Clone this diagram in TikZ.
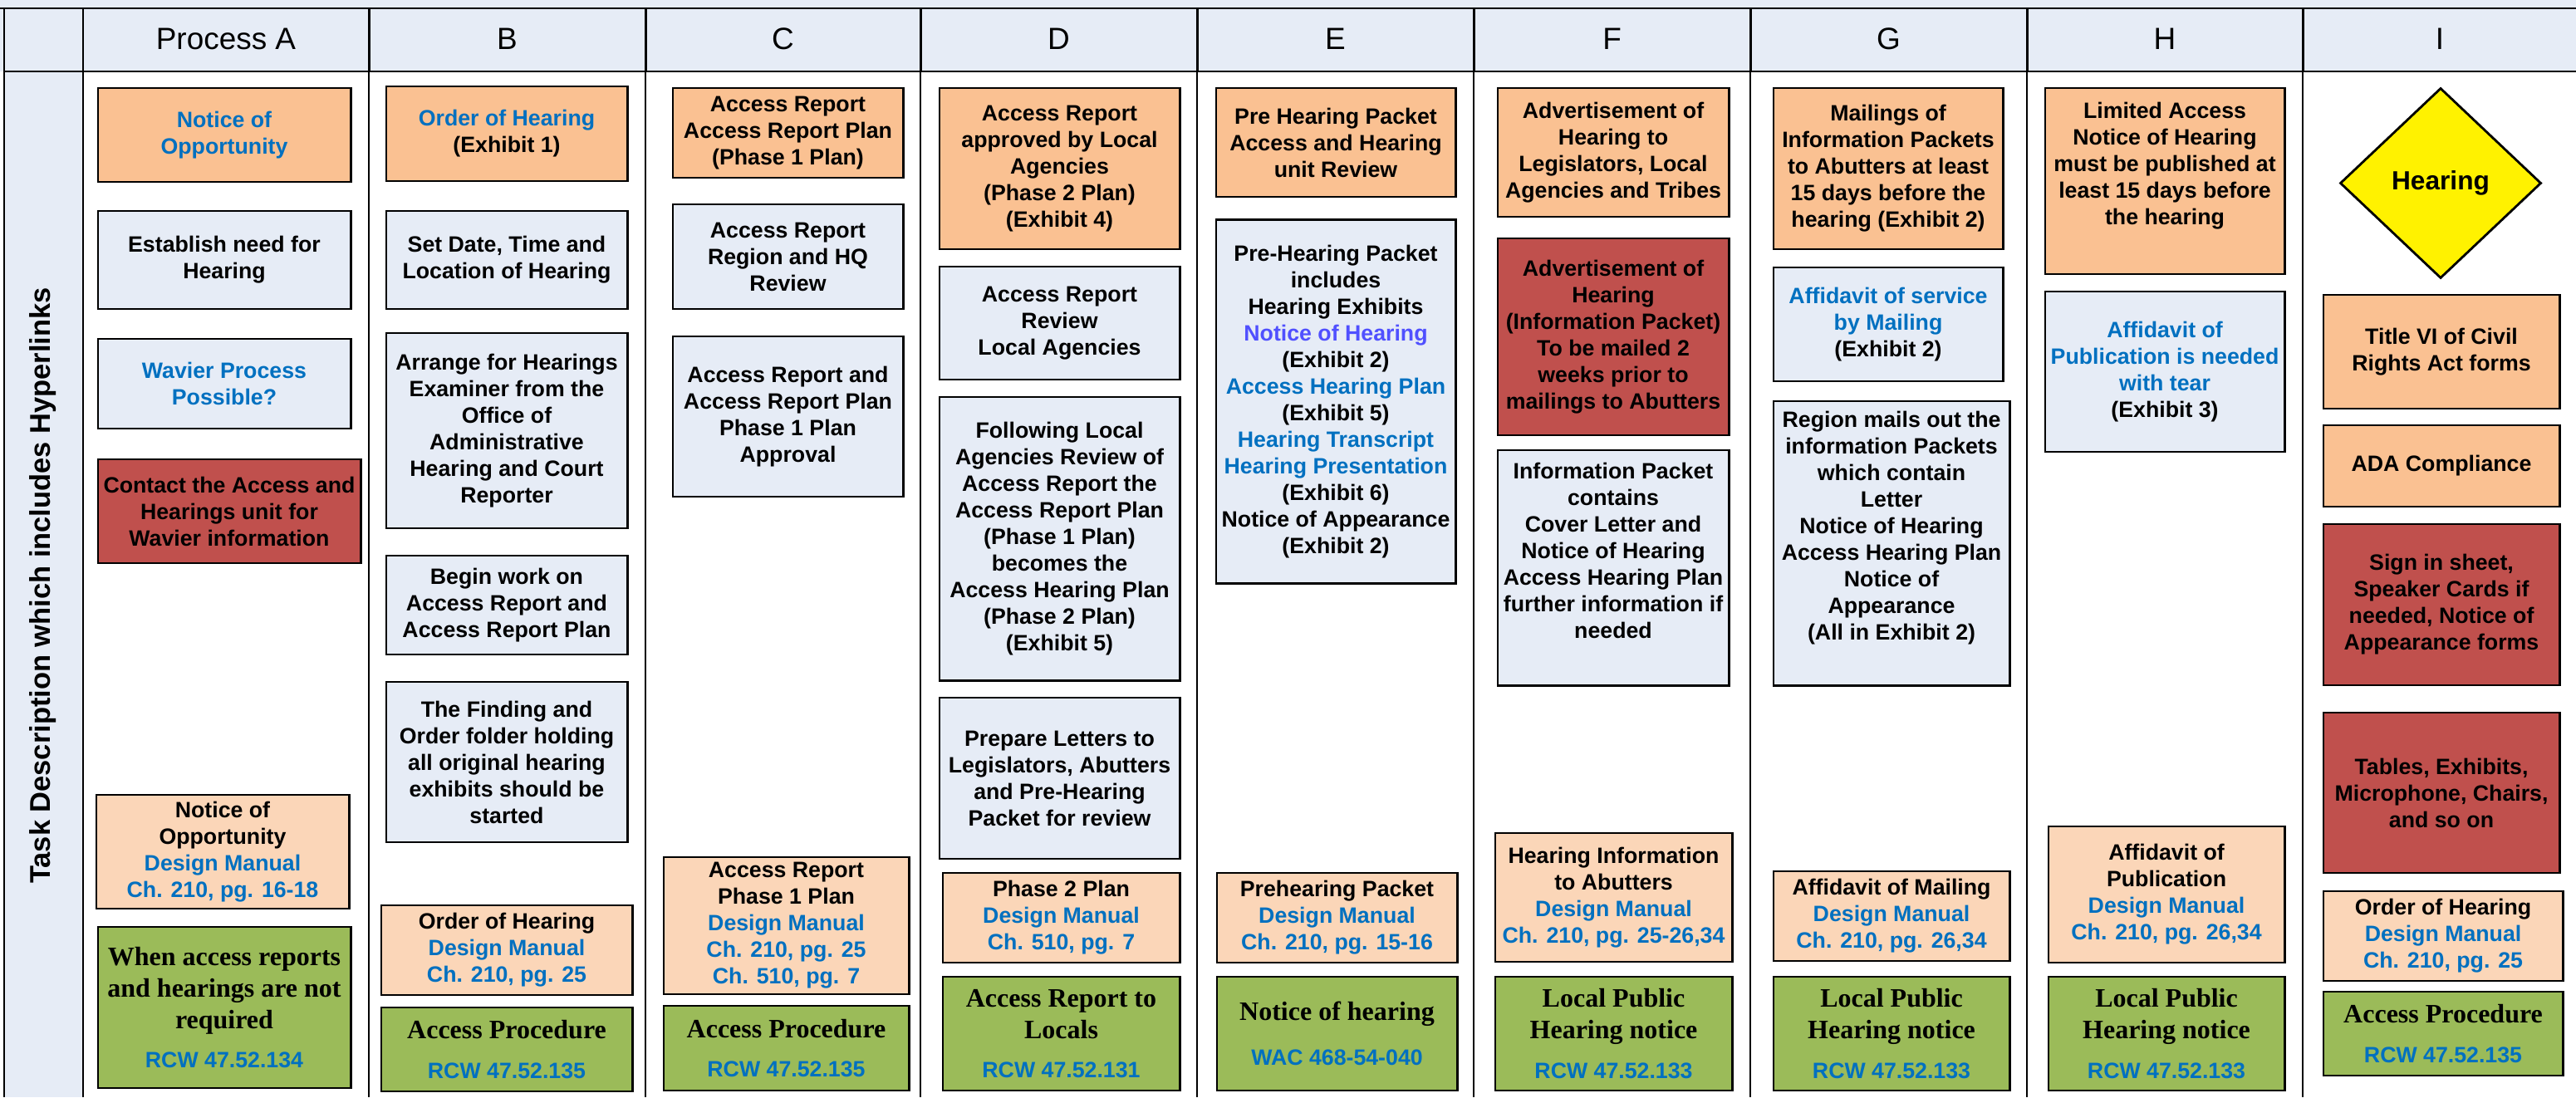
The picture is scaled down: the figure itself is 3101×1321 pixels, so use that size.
\documentclass[tikz,border=0pt]{standalone}
\usepackage{fontspec}
\setmainfont{Liberation Sans}
\newfontfamily\lawserif{Liberation Serif}
\usetikzlibrary{shapes.geometric}

\definecolor{headfill}{HTML}{E6ECF6}
\definecolor{stepfill}{HTML}{E6ECF6}
\definecolor{topfill}{HTML}{FAC192}
\definecolor{reffill}{HTML}{FBD6B8}
\definecolor{alertfill}{HTML}{C0504D}
\definecolor{lawfill}{HTML}{9BBB59}
\definecolor{linkblue}{HTML}{0070C0}
\definecolor{linkviolet}{HTML}{5050FF}

\newcommand\boxfont{\fontsize{7.6}{9.1}\selectfont\rmfamily\bfseries}
\newcommand\lawfont{\fontsize{9.1}{10.8}\selectfont\lawserif\bfseries}
\newcommand\headfont{\fontsize{10.5}{12}\selectfont}
\newcommand\linktext[1]{\textcolor{linkblue}{#1}}
\newcommand\rcw[1]{{\boxfont\linktext{#1}}}

\begin{document}
\begin{tikzpicture}[x=0.01cm, y=-0.01cm,
    task/.style={draw, line width=0.8pt, align=center, inner sep=1pt, font=\boxfont},
    boxsize/.style 2 args={minimum width=#1cm, minimum height=#2cm},
    topbox/.style={task, fill=topfill},
    stepbox/.style={task, fill=stepfill},
    alertbox/.style={task, fill=alertfill},
    refbox/.style={task, fill=reffill},
    lawbox/.style={task, fill=lawfill, font=\lawfont}]
    \useasboundingbox (0,0) rectangle (3101,1321);

    \fill[headfill] (0,0) rectangle (3101,86);
    \fill[headfill] (5,86) rectangle (100,1321);
    \draw[line width=0.85pt] (0,10) -- (3101,10);
    \draw[line width=0.85pt] (5,86) -- (3101,86);
    \draw[line width=0.85pt] (5,10) -- (5,1321);
    \draw[line width=0.6pt] (100,10) -- (100,1321);
    \foreach \x in {444,777,1108,1441,1774,2107,2440,2772} {
        \draw[line width=0.85pt] (\x,10) -- (\x,86);
        \draw[line width=0.5pt] (\x,86) -- (\x,1321);
    }

    \node (rowLabel) [rotate=90, font=\fontsize{9.8}{11}\selectfont\bfseries] at (52,705) {Task Description which includes Hyperlinks};

    \node (hdrA) [font=\headfont] at (272,47) {Process A};
    \node (hdrB) [font=\headfont] at (610.5,47) {B};
    \node (hdrC) [font=\headfont] at (942.5,47) {C};
    \node (hdrD) [font=\headfont] at (1274.5,47) {D};
    \node (hdrE) [font=\headfont] at (1607.5,47) {E};
    \node (hdrF) [font=\headfont] at (1940.5,47) {F};
    \node (hdrG) [font=\headfont] at (2273.5,47) {G};
    \node (hdrH) [font=\headfont] at (2606,47) {H};
    \node (hdrI) [font=\headfont] at (2937,47) {I};

    \node (aNotice) [topbox, boxsize={3.04}{1.13}] at (270,162.5) {\linktext{Notice of}\\\linktext{Opportunity}};
    \node (aNeed) [stepbox, boxsize={3.04}{1.18}] at (270,313) {Establish need for\\Hearing};
    \node (aWaiver) [stepbox, boxsize={3.04}{1.08}] at (270,462) {\linktext{Wavier Process}\\\linktext{Possible?}};
    \node (aContact) [alertbox, boxsize={3.16}{1.25}] at (276,615.5) {Contact the Access and\\Hearings unit for\\Wavier information};
    \node (aManual) [refbox, boxsize={3.04}{1.37}] at (268,1025.5) {Notice of\\Opportunity\\\linktext{Design Manual}\\\linktext{Ch. 210, pg. 16-18}};
    \node (aLaw) [lawbox, boxsize={3.04}{1.94}] at (270,1213) {When access reports\\and hearings are not\\required\\[2.7pt]\rcw{RCW 47.52.134}};

    \node (bOrder) [topbox, boxsize={2.90}{1.14}] at (610,161) {\linktext{Order of Hearing}\\(Exhibit 1)};
    \node (bDate) [stepbox, boxsize={2.90}{1.18}] at (610,313) {Set Date, Time and\\Location of Hearing};
    \node (bArrange) [stepbox, boxsize={2.90}{2.35}] at (610,518.5) {Arrange for Hearings\\Examiner from the\\Office of\\Administrative\\Hearing and Court\\Reporter};
    \node (bBegin) [stepbox, boxsize={2.90}{1.19}] at (610,728.5) {Begin work on\\Access Report and\\Access Report Plan};
    \node (bFolder) [stepbox, boxsize={2.90}{1.93}] at (610,917.5) {The Finding and\\Order folder holding\\all original hearing\\exhibits should be\\started};
    \node (bManual) [refbox, boxsize={3.02}{1.08}] at (610,1144) {Order of Hearing\\\linktext{Design Manual}\\\linktext{Ch. 210, pg. 25}};
    \node (bLaw) [lawbox, boxsize={3.02}{1.01}] at (610,1263.5) {Access Procedure\\[2.7pt]\rcw{RCW 47.52.135}};

    \node (cReport) [topbox, boxsize={2.77}{1.08}] at (948.5,160) {Access Report\\Access Report Plan\\(Phase 1 Plan)};
    \node (cReview) [stepbox, boxsize={2.77}{1.26}] at (948.5,309) {Access Report\\Region and HQ\\Review};
    \node (cApproval) [stepbox, boxsize={2.77}{1.93}] at (948.5,501.5) {Access Report and\\Access Report Plan\\Phase 1 Plan\\Approval};
    \node (cManual) [refbox, boxsize={2.95}{1.65}] at (946.5,1114.5) {Access Report\\Phase 1 Plan\\\linktext{Design Manual}\\\linktext{Ch. 210, pg. 25}\\\linktext{Ch. 510, pg. 7}};
    \node (cLaw) [lawbox, boxsize={2.95}{1.02}] at (946.5,1262) {Access Procedure\\[2.7pt]\rcw{RCW 47.52.135}};

    \node (dApproved) [topbox, boxsize={2.89}{1.94}] at (1275.5,203) {Access Report\\approved by Local\\Agencies\\(Phase 2 Plan)\\(Exhibit 4)};
    \node (dReview) [stepbox, boxsize={2.89}{1.36}] at (1275.5,389) {Access Report\\Review\\Local Agencies};
    \node (dFollowing) [stepbox, boxsize={2.89}{3.41}] at (1275.5,648.5) {Following Local\\Agencies Review of\\Access Report the\\Access Report Plan\\(Phase 1 Plan)\\becomes the\\Access Hearing Plan\\(Phase 2 Plan)\\(Exhibit 5)};
    \node (dPrepare) [stepbox, boxsize={2.89}{1.94}] at (1275.5,937) {Prepare Letters to\\Legislators, Abutters\\and Pre-Hearing\\Packet for review};
    \node (dManual) [refbox, boxsize={2.85}{1.08}] at (1277.5,1105) {Phase 2 Plan\\\linktext{Design Manual}\\\linktext{Ch. 510, pg. 7}};
    \node (dLaw) [lawbox, boxsize={2.85}{1.37}] at (1277.5,1244.5) {Access Report to\\Locals\\[2.7pt]\rcw{RCW 47.52.131}};

    \node (eReview) [topbox, boxsize={2.88}{1.31}] at (1608,171.5) {Pre Hearing Packet\\Access and Hearing\\unit Review};
    \node (ePacket) [stepbox, boxsize={2.88}{4.37}] at (1608,483.5) {Pre-Hearing Packet\\includes\\Hearing Exhibits\\\textcolor{linkviolet}{Notice of Hearing}\\(Exhibit 2)\\\linktext{Access Hearing Plan}\\(Exhibit 5)\\\linktext{Hearing Transcript}\\\linktext{Hearing Presentation}\\(Exhibit 6)\\Notice of Appearance\\(Exhibit 2)};
    \node (eManual) [refbox, boxsize={2.89}{1.08}] at (1609.5,1105) {Prehearing Packet\\\linktext{Design Manual}\\\linktext{Ch. 210, pg. 15-16}};
    \node (eLaw) [lawbox, boxsize={2.89}{1.37}] at (1609.5,1244.5) {Notice of hearing\\[4.7pt]\rcw{WAC 468-54-040}};

    \node (fAdvert) [topbox, boxsize={2.78}{1.55}] at (1942,183.5) {Advertisement of\\Hearing to\\Legislators, Local\\Agencies and Tribes};
    \node (fPacket) [alertbox, boxsize={2.78}{2.37}] at (1942,405.5) {Advertisement of\\Hearing\\(Information Packet)\\To be mailed 2\\weeks prior to\\mailings to Abutters};
    \node (fContains) [stepbox, boxsize={2.78}{2.83}] at (1942,683.5) {Information Packet\\contains\\Cover Letter and\\Notice of Hearing\\Access Hearing Plan\\further information if\\needed\\\strut};
    \node (fManual) [refbox, boxsize={2.85}{1.55}] at (1942.5,1080.5) {Hearing Information\\to Abutters\\\linktext{Design Manual}\\\linktext{Ch. 210, pg. 25-26,34}};
    \node (fLaw) [lawbox, boxsize={2.85}{1.37}] at (1942.5,1244.5) {Local Public\\Hearing notice\\[2.7pt]\rcw{RCW 47.52.133}};

    \node (gMailings) [topbox, boxsize={2.76}{1.94}] at (2273,203) {Mailings of\\Information Packets\\to Abutters at least\\15 days before the\\hearing (Exhibit 2)};
    \node (gAffidavit) [stepbox, boxsize={2.76}{1.37}] at (2273,390.5) {\linktext{Affidavit of service}\\\linktext{by Mailing}\\(Exhibit 2)};
    \node (gRegion) [stepbox, boxsize={2.84}{3.42}] at (2277,654) {Region mails out the\\information Packets\\which contain\\Letter\\Notice of Hearing\\Access Hearing Plan\\Notice of\\Appearance\\(All in Exhibit 2)\\\strut};
    \node (gManual) [refbox, boxsize={2.84}{1.08}] at (2277,1103) {Affidavit of Mailing\\\linktext{Design Manual}\\\linktext{Ch. 210, pg. 26,34}};
    \node (gLaw) [lawbox, boxsize={2.84}{1.37}] at (2277,1244.5) {Local Public\\Hearing notice\\[2.7pt]\rcw{RCW 47.52.133}};

    \node (hLimited) [topbox, boxsize={2.88}{2.24}] at (2606,218) {Limited Access\\Notice of Hearing\\must be published at\\least 15 days before\\the hearing\\\strut};
    \node (hPublication) [stepbox, boxsize={2.88}{1.93}] at (2606,447.5) {\linktext{Affidavit of}\\\linktext{Publication is needed}\\\linktext{with tear}\\(Exhibit 3)};
    \node (hManual) [refbox, boxsize={2.84}{1.64}] at (2608,1077) {Affidavit of\\Publication\\\linktext{Design Manual}\\\linktext{Ch. 210, pg. 26,34}};
    \node (hLaw) [lawbox, boxsize={2.84}{1.37}] at (2608,1244.5) {Local Public\\Hearing notice\\[2.7pt]\rcw{RCW 47.52.133}};

    \node (iHearing) [diamond, draw, line width=0.8pt, fill=yellow, minimum width=2.42cm, minimum height=2.29cm, inner sep=0pt, font=\fontsize{9}{10}\selectfont\bfseries] at (2938,220.5) {Hearing};
    \node (iTitle) [topbox, boxsize={2.84}{1.37}] at (2939,423.5) {Title VI of Civil\\Rights Act forms};
    \node (iADA) [topbox, boxsize={2.84}{0.98}] at (2939,561) {ADA Compliance};
    \node (iSignIn) [alertbox, boxsize={2.84}{1.94}] at (2939,728) {Sign in sheet,\\Speaker Cards if\\needed, Notice of\\Appearance forms};
    \node (iTables) [alertbox, boxsize={2.84}{1.93}] at (2939,954.5) {Tables, Exhibits,\\Microphone, Chairs,\\and so on};
    \node (iManual) [refbox, boxsize={2.88}{1.08}] at (2941,1127) {Order of Hearing\\\linktext{Design Manual}\\\linktext{Ch. 210, pg. 25}};
    \node (iLaw) [lawbox, boxsize={2.88}{1.01}] at (2941,1244.5) {Access Procedure\\[2.7pt]\rcw{RCW 47.52.135}};
\end{tikzpicture}
\end{document}
